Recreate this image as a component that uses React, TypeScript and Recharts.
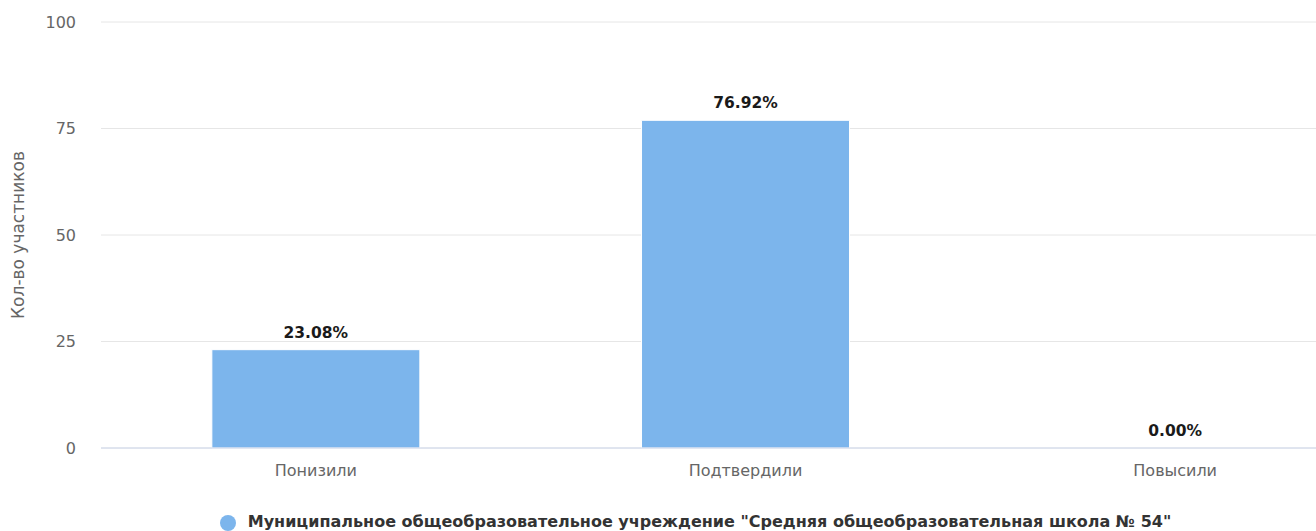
import React from 'react';
import { ComposedChart, Bar, Line, XAxis, YAxis, CartesianGrid, Legend, LabelList } from 'recharts';

const categories = ['Понизили', 'Подтвердили', 'Повысили'];
const values = [23.08, 76.92, 0];
const yTicks = [0, 25, 50, 75, 100];
const seriesName = 'Муниципальное общеобразовательное учреждение "Средняя общеобразовательная школа № 54"';
const yTitle = 'Кол-во участников';

const data = categories.map((c, i) => ({ category: c, value: values[i] }));

const FONT = '"DejaVu Sans", Verdana, sans-serif';

export default function App() {
  return (
    <div style={{ position: 'fixed', top: 0, left: 0, width: 1316, height: 531, overflow: 'hidden', background: '#fff' }}>
      <ComposedChart
        width={1400}
        height={531}
        data={data}
        margin={{ top: 22, right: 10, bottom: 0, left: 41 }}
        barCategoryGap="25.8%"
        style={{ fontFamily: FONT }}
      >
        <CartesianGrid vertical={false} stroke="#e6e6e6" />
        <XAxis
          dataKey="category"
          height={43}
          tickLine={false}
          axisLine={{ stroke: '#ccd6eb' }}
          tick={{ fill: '#666666', fontSize: 16, fontFamily: FONT }}
          tickMargin={11}
        />
        <YAxis
          width={60}
          domain={[0, 100]}
          ticks={yTicks}
          tickLine={false}
          axisLine={false}
          tickMargin={19}
          tick={{ fill: '#666666', fontSize: 16, fontFamily: FONT }}
          label={{ value: yTitle, angle: -90, position: 'insideLeft', dx: -28, dy: 0, style: { textAnchor: 'middle', fill: '#666666', fontSize: 17, fontFamily: FONT } }}
        />
        <Legend
          verticalAlign="bottom"
          height={19}
          iconType="circle"
          iconSize={16}
          wrapperStyle={{ paddingTop: 21, left: 26, fontFamily: FONT, fontSize: 16, fontWeight: 'bold', color: '#333333' }}
          formatter={(v) => <span style={{ color: '#333333', marginLeft: 8 }}>{v}</span>}
        />
        <Bar dataKey="value" name={seriesName} fill="#7cb5ec" stroke="#ffffff" strokeWidth={1} isAnimationActive={false} />
        <Line
          dataKey="value"
          stroke="none"
          dot={false}
          activeDot={false}
          legendType="none"
          isAnimationActive={false}
        >
          <LabelList
            dataKey="value"
            position="top"
            offset={12}
            formatter={(v) => Number(v).toFixed(2) + '%'}
            style={{ fill: '#1a1a1a', fontSize: 15.5, fontWeight: 'bold', fontFamily: FONT }}
          />
        </Line>
      </ComposedChart>
    </div>
  );
}
